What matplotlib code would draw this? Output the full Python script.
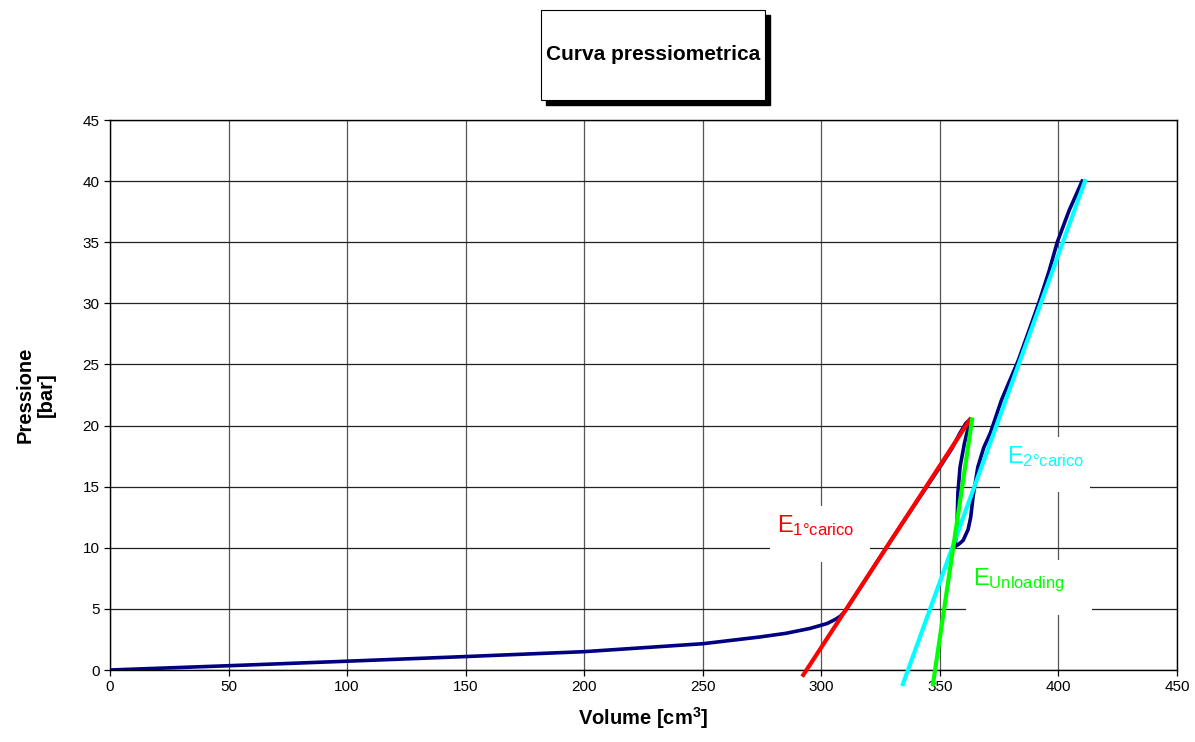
import matplotlib
matplotlib.use("Agg")
import matplotlib.pyplot as plt
from matplotlib.patches import Rectangle

plt.rcParams['font.family'] = ['Liberation Sans', 'DejaVu Sans']
plt.rcParams['mathtext.fontset'] = 'custom'
plt.rcParams['mathtext.rm'] = 'Liberation Sans'
plt.rcParams['mathtext.it'] = 'Liberation Sans'
plt.rcParams['mathtext.bf'] = 'Liberation Sans:bold'

# --- data ---
volume = [0, 50, 100, 150, 200, 250, 274, 285, 295.2, 302.4, 306, 308, 310,
          320, 330, 340, 350, 355, 358.5, 361, 362.7,
          360.3, 358.5, 357.6, 357.2, 356.4,
          358, 359.8, 361.9, 363, 364, 366, 368.5, 371.3, 376, 383, 388,
          392, 396, 399.5, 404.5, 410]
pressione = [0, 0.35, 0.72, 1.1, 1.5, 2.15, 2.7, 3.0, 3.4, 3.8, 4.15, 4.4, 4.8,
             7.8, 10.8, 13.7, 16.6, 18.1, 19.4, 20.2, 20.5,
             18.5, 16.6, 14.5, 11.7, 10.1,
             10.3, 10.6, 11.5, 12.5, 14.2, 16.6, 18.2, 19.4, 22.1, 25.3, 28.0,
             30.2, 32.6, 35.0, 37.6, 40.0]

e1_vol = [292.4, 362.7]
e1_p = [-0.4, 20.5]
e2_vol = [334.4, 411.2]
e2_p = [-1.15, 40]
eu_vol = [347.1, 363.6]
eu_p = [-1.15, 20.5]

xticks = list(range(0, 451, 50))
yticks = list(range(0, 46, 5))

fig = plt.figure(figsize=(11.95, 7.42), dpi=100)
ax = fig.add_axes([110/1195, 72/742, (1177-110)/1195, 550/742])

ax.set_xlim(0, 450)
ax.set_ylim(0, 45)
ax.set_xticks(xticks)
ax.set_yticks(yticks)
ax.grid(True, axis='y', color='#222222', lw=0.9)
ax.grid(True, axis='x', color='#555555', lw=0.9)
ax.set_axisbelow(True)
for s in ax.spines.values():
    s.set_color('black')
    s.set_linewidth(1.0)
ax.tick_params(direction='out', length=4, width=0.9, labelsize=11, colors='black')

ax.plot(volume, pressione, color='#000080', lw=2.6, solid_joinstyle='round', zorder=3)
ax.plot(e1_vol, e1_p, color='#FF0000', lw=3, clip_on=False, zorder=4)
ax.plot(e2_vol, e2_p, color='#00FFFF', lw=3, clip_on=False, zorder=4)
ax.plot(eu_vol, eu_p, color='#00FF00', lw=3, clip_on=False, zorder=4)

# white label boxes (data coords)
for (vx0, vx1, py0, py1) in [(278.4, 320.5, 8.83, 13.42),
                             (375.4, 413.3, 14.56, 19.06),
                             (361.0, 414.1, 4.50, 9.00)]:
    ax.add_patch(Rectangle((vx0, py0), vx1 - vx0, py1 - py0, facecolor='white',
                           edgecolor='none', zorder=2))

ax.text(281.3, 11.3, r'E$_{\mathrm{1°carico}}$', color='#FF0000', fontsize=17,
        va='baseline', ha='left', zorder=2.5)
ax.text(378.2, 16.96, r'E$_{\mathrm{2°carico}}$', color='#00FFFF', fontsize=17,
        va='baseline', ha='left', zorder=2.5)
ax.text(363.8, 6.95, r'E$_{\mathrm{Unloading}}$', color='#00FF00', fontsize=17,
        va='baseline', ha='left', zorder=2.5)

ax.set_xlabel(r'Volume [cm$^{\mathbf{3}}$]', fontsize=14.5, fontweight='bold', labelpad=8)
ax.set_ylabel('Pressione\n[bar]', fontsize=14.5, fontweight='bold',
              linespacing=1.1)
ax.yaxis.set_label_coords(-0.051, 0.5)

# title box with shadow
x0, y0, w, h = 541/1195, 1-100/742, (765-541)/1195, 90/742
fig.patches.append(Rectangle((x0+5/1195, y0-5/742), w, h, transform=fig.transFigure,
                             facecolor='black', edgecolor='black', zorder=1))
fig.patches.append(Rectangle((x0, y0), w, h, transform=fig.transFigure,
                             facecolor='white', edgecolor='black', lw=0.8, zorder=2))
fig.text(x0 + w/2, y0 + h/2, 'Curva pressiometrica', ha='center', va='center',
         fontsize=15, fontweight='bold', zorder=3)

fig.savefig('out.png', dpi=100)
